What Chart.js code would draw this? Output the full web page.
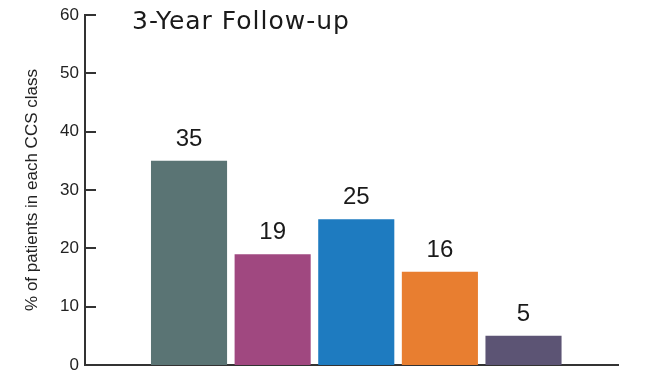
<!DOCTYPE html>
<html>
<head>
<meta charset="utf-8">
<script src="https://cdn.jsdelivr.net/npm/chart.js@4.4.1/dist/chart.umd.min.js"></script>
<style>
  html, body { margin: 0; padding: 0; background: #fff; }
  #wrap { width: 650px; height: 373px; }
</style>
</head>
<body>
<div id="wrap"><canvas id="ccsChart" width="650" height="373"></canvas></div>
<script>
// data
const categories = ['CCS 0', 'CCS I', 'CCS II', 'CCS III', 'CCS IV'];
const percentages = [35, 19, 25, 16, 5];
const barColors = ['#5a7474', '#a04880', '#1e7bc0', '#e87e30', '#5c5474'];
const yTicks = [0, 10, 20, 30, 40, 50, 60];
const chartTitle = '3-Year Follow-up';
const yTitle = '% of patients in each CCS class';

const sans = "'Liberation Sans', Arial, sans-serif";
const axisColor = '#333';

// ticks on the inside of the y axis, value labels, title
const decorations = {
    id: 'decorations',
    afterDatasetsDraw(chart) {
        const ctx = chart.ctx;
        const y = chart.scales.y;
        const area = chart.chartArea;
        ctx.save();
        ctx.strokeStyle = axisColor;
        ctx.lineWidth = 2;
        yTicks.forEach(t => {
            const py = Math.round(y.getPixelForValue(t));
            ctx.beginPath();
            ctx.moveTo(area.left, py);
            ctx.lineTo(area.left + 11, py);
            ctx.stroke();
        });

        ctx.fillStyle = '#1a1a1a';
        ctx.font = '24px ' + sans;
        ctx.textAlign = 'center';
        ctx.textBaseline = 'alphabetic';
        chart.getDatasetMeta(0).data.forEach((bar, i) => {
            ctx.fillText(String(percentages[i]), bar.x, bar.y - 15);
        });

        ctx.font = "25px 'DejaVu Sans', sans-serif";
        ctx.letterSpacing = '1px';
        ctx.textAlign = 'left';
        ctx.fillText(chartTitle, area.left + 47, 29);
        ctx.restore();
    }
};

new Chart(document.getElementById('ccsChart').getContext('2d'), {
    type: 'bar',
    data: {
        labels: categories,
        datasets: [{
            label: yTitle,
            data: percentages.map((v, i) => ({ x: i, y: v })),
            backgroundColor: barColors,
            borderWidth: 0,
            barPercentage: 0.91,
            categoryPercentage: 1
        }]
    },
    options: {
        responsive: false,
        animation: false,
        layout: { padding: { top: 15, right: 32, bottom: 8, left: 0 } },
        scales: {
            x: {
                type: 'linear',
                min: -1.244,
                max: 5.13,
                offset: false,
                display: true,
                ticks: { display: false },
                grid: { display: false, drawTicks: false },
                border: { display: true, color: axisColor, width: 2 },
                afterFit: s => { s.height = 0; s.paddingLeft = 0; s.paddingRight = 0; }
            },
            y: {
                min: 0,
                max: 60,
                afterBuildTicks: s => { s.ticks = yTicks.map(v => ({ value: v })); },
                ticks: {
                    color: '#222',
                    padding: 6,
                    font: { family: sans, size: 17 }
                },
                grid: { display: false, drawTicks: false },
                border: { display: true, color: axisColor, width: 2 },
                title: {
                    display: true,
                    text: yTitle,
                    color: '#222',
                    padding: { top: 22, bottom: 0 },
                    font: { family: sans, size: 17 }
                },
                afterFit: s => { s.width = 85; s.paddingTop = 0; s.paddingBottom = 0; }
            }
        },
        plugins: {
            legend: { display: false },
            tooltip: { enabled: false }
        }
    },
    plugins: [decorations]
});
</script>
</body>
</html>
